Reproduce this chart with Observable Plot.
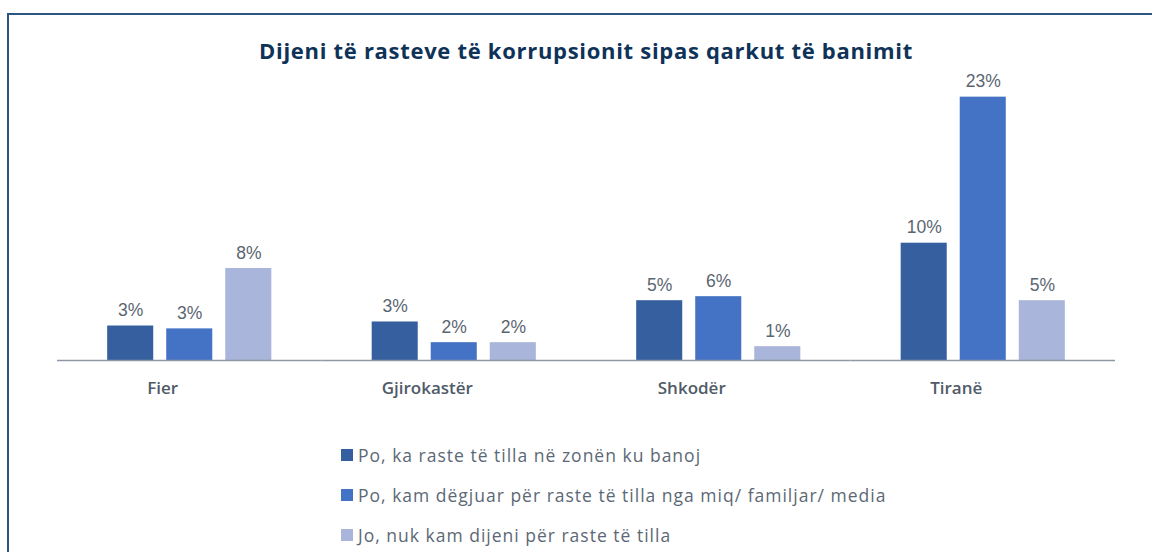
<!DOCTYPE html>
<html>
<head>
<meta charset="utf-8">
<script src="https://cdn.jsdelivr.net/npm/d3@7"></script>
<script src="https://cdn.jsdelivr.net/npm/@observablehq/plot@0.6"></script>
<style>
  html, body { margin: 0; padding: 0; background: #fff; }
  #wrap { position: relative; width: 1152px; height: 552px; overflow: hidden; background: #fff; }
  #frame { position: absolute; left: 7px; top: 13px; width: 1200px; height: 600px;
           border-left: 2px solid #2d5583; border-top: 2px solid #2d5583; }
  #title { position: absolute; left: 0; width: 1172px; top: 38px; text-align: center;
           font-family: "Open Sans", sans-serif; font-weight: 700; font-size: 22px; line-height: 24px;
           letter-spacing: 0.7px; color: #0f3358; white-space: nowrap; }
  #chart { position: absolute; left: 0; top: 70px; }
  #legend { position: absolute; left: 341px; top: 443px; font-family: "Open Sans", sans-serif;
            font-size: 17.5px; letter-spacing: 1px; color: #5c6875; }
  .row { display: flex; align-items: center; height: 24px; margin-bottom: 16px; white-space: nowrap; }
  .sw { width: 12px; height: 12px; margin-right: 5px; flex: none; }
</style>
</head>
<body>
<div id="wrap">
  <div id="frame"></div>
  <div id="title"></div>
  <div id="chart"></div>
  <div id="legend"></div>
</div>
<script>
const titleText = "Dijeni të rasteve të korrupsionit sipas qarkut të banimit";
const categories = ["Fier", "Gjirokastër", "Shkodër", "Tiranë"];
const series = [
  "Po, ka raste të tilla në zonën ku banoj",
  "Po, kam dëgjuar për raste të tilla nga miq/ familjar/ media",
  "Jo, nuk kam dijeni për raste të tilla"
];
// percentage values per category (order of series)
const seriesA = [3.0, 3.35, 5.2, 10.2];
const seriesB = [2.75, 1.55, 5.55, 22.9];
const seriesC = [8.0, 1.55, 1.2, 5.2];
const colors = ["#365f9f", "#4472c4", "#a9b5da"];

const seriesValues = [seriesA, seriesB, seriesC];
const data = [];
categories.forEach((c, i) => {
  series.forEach((s, j) => data.push({category: c, series: s, value: seriesValues[j][i]}));
});

document.getElementById("title").textContent = titleText;

const chart = Plot.plot({
  width: 1152,
  height: 340,
  marginLeft: 57,
  marginRight: 37,
  marginTop: 25.5,
  marginBottom: 50,
  style: {fontFamily: "Liberation Sans, Arial, sans-serif", background: "transparent"},
  fx: {domain: categories, padding: 0, round: false, label: null},
  x: {domain: series, paddingInner: 0.22, paddingOuter: 0.85, round: false, axis: null},
  y: {domain: [0, 23], axis: null},
  color: {domain: series, range: colors},
  marks: [
    Plot.barY(data, {fx: "category", x: "series", y: "value", fill: "series"}),
    Plot.ruleY([0], {stroke: "#8e99a5", strokeWidth: 1.5}),
    Plot.text(data, {fx: "category", x: "series", y: "value",
      text: d => Math.round(d.value) + "%", dy: -10, lineAnchor: "bottom",
      fontSize: 17.5, fill: "#5b6570"}),
    Plot.axisFx({anchor: "bottom", tickSize: 0, tickPadding: 21, dx: -27, label: null,
      fontSize: 17, fontWeight: 600, fill: "#505b68",
      fontFamily: "Open Sans, sans-serif"})
  ]
});
document.getElementById("chart").appendChild(chart);

const colorScale = chart.scale("color");
const legend = document.getElementById("legend");
series.forEach((s, j) => {
  const row = document.createElement("div");
  row.className = "row";
  const sw = document.createElement("span");
  sw.className = "sw";
  sw.style.background = colorScale.range[j];
  const t = document.createElement("span");
  t.textContent = s;
  row.appendChild(sw);
  row.appendChild(t);
  legend.appendChild(row);
});
</script>
</body>
</html>
